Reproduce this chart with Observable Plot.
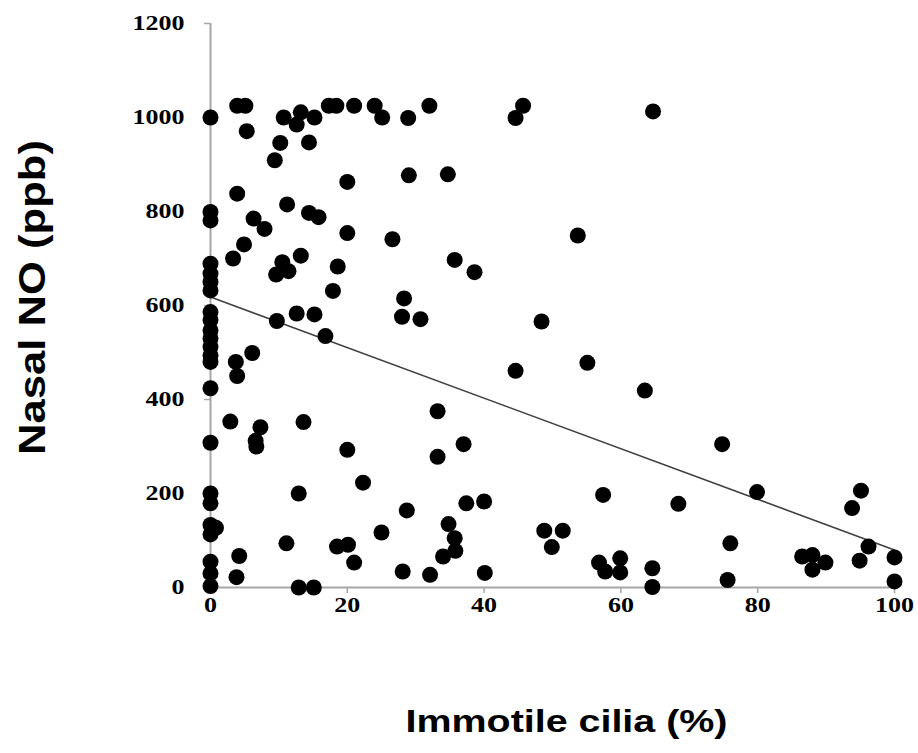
<!DOCTYPE html>
<html>
<head>
<meta charset="utf-8">
<script src="https://cdn.jsdelivr.net/npm/d3@7"></script>
<script src="https://cdn.jsdelivr.net/npm/@observablehq/plot@0.6"></script>
<style>
  html, body { margin: 0; padding: 0; background: white; }
</style>
</head>
<body>
<div id="chart"></div>
<script>
// Data
const immotile = [
  0, 3.9, 5.1, 5.3, 10.7, 13.2, 12.6, 15.2, 17.3, 18.4, 21.0, 24.0, 25.1, 28.9, 32.0, 44.6, 45.7, 64.7,
  10.2, 14.4, 9.4, 20.0, 3.9, 11.2, 0, 0, 14.4, 15.8, 6.3, 7.9, 20.0, 4.9, 3.3, 10.5, 13.2, 9.6, 11.4, 18.6, 17.9,
  0, 0, 0, 0, 0, 0, 0, 0, 0, 0, 0, 0,
  9.7, 12.6, 15.2, 16.8, 6.1, 3.7, 3.9, 2.9, 7.3, 6.6, 6.7, 13.6, 0, 20.0, 22.3, 0, 0, 12.9,
  0, 0.8, 0, 0, 0, 0, 4.2, 3.8, 11.1, 12.9, 15.1, 18.5, 20.1, 21.0,
  29.0, 34.7, 26.6, 35.7, 38.6, 28.3, 28.0, 30.7, 48.4, 44.6, 33.2, 37.0, 33.2, 28.7, 37.4, 40.0, 25.0,
  34.8, 35.7, 35.8, 34.0, 28.1, 32.1, 40.1,
  53.7, 55.1, 63.5, 57.4, 68.4, 48.8, 51.5, 49.9, 56.8, 57.7, 59.9, 59.9, 64.6, 64.6,
  74.8, 79.9, 76.0, 75.6, 86.5, 88.0, 89.9, 88.0, 95.1, 93.8, 96.2, 94.9, 100, 100
];
const nasalNO = [
  1000, 1025, 1025, 971, 1000, 1011, 985, 1000, 1025, 1025, 1025, 1025, 1000, 999, 1025, 999, 1025, 1013,
  946, 947, 909, 863, 838, 815, 799, 781, 797, 788, 785, 763, 754, 730, 700, 692, 706, 666, 673, 683, 631,
  689, 668, 650, 632, 586, 569, 547, 530, 512, 494, 480, 424,
  567, 583, 581, 535, 499, 480, 450, 353, 341, 312, 300, 352, 308, 293, 223, 200, 179, 200,
  133, 127, 113, 55, 30, 3, 67, 22, 94, 0, 0, 87, 91, 53,
  877, 879, 741, 697, 671, 615, 576, 571, 566, 461, 375, 305, 278, 164, 179, 183, 117,
  135, 105, 78, 66, 34, 27, 31,
  749, 478, 419, 197, 178, 121, 121, 86, 53, 34, 62, 32, 41, 1,
  305, 203, 94, 16, 66, 69, 53, 38, 206, 169, 87, 57, 64, 13
];
const trendX = [0, 100];
const trendY = [618, 80];
const xTicks = [0, 20, 40, 60, 80, 100];
const yTicks = [0, 200, 400, 600, 800, 1000, 1200];
const xTitle = ["Immotile cilia (%)"];
const yTitle = ["Nasal NO (ppb)"];

const points = immotile.map((x, i) => ({x, y: nasalNO[i]}));
const trend = trendX.map((x, i) => ({x, y: trendY[i]}));

const axisGray = "#a6a6a6";
const tickFont = {fontFamily: "Liberation Serif", fontSize: 20, fontWeight: "bold"};
const fmt = d => String(d);

const chart = Plot.plot({
  width: 918,
  height: 753,
  marginLeft: 210,
  marginRight: 24,
  marginTop: 23,
  marginBottom: 166,
  x: {domain: [0, 100]},
  y: {domain: [0, 1200]},
  style: {background: "white", overflow: "visible"},
  marks: [
    Plot.axisY({ticks: yTicks, tickSize: 6, stroke: axisGray, strokeWidth: 1.5, text: null, label: null}),
    Plot.axisX({ticks: xTicks, tickSize: 6, stroke: axisGray, strokeWidth: 1.5, text: null, label: null}),
    Plot.axisY({ticks: yTicks, tickFormat: fmt, tickSize: 0, tickPadding: 26, fill: "black", ...tickFont, label: null}),
    Plot.axisX({ticks: xTicks, tickFormat: fmt, tickSize: 0, tickPadding: 10, fill: "black", ...tickFont, label: null}),
    Plot.ruleX([0], {stroke: axisGray, strokeWidth: 2}),
    Plot.ruleY([0], {stroke: axisGray, strokeWidth: 2}),
    Plot.line(trend, {x: "x", y: "y", stroke: "#404040", strokeWidth: 1.6}),
    Plot.dot(points, {x: "x", y: "y", r: 8, fill: "black", stroke: null}),
    Plot.text(yTitle, {
      text: d => d, frameAnchor: "left", dx: -177, dy: -8, rotate: -90,
      textAnchor: "middle", lineAnchor: "middle",
      fontFamily: "Liberation Sans", fontWeight: "bold", fontSize: 37, fill: "black"
    }),
    Plot.text(xTitle, {
      text: d => d, frameAnchor: "bottom", dx: 14, dy: 135,
      textAnchor: "middle", lineAnchor: "middle",
      fontFamily: "Liberation Sans", fontWeight: "bold", fontSize: 31, fill: "black"
    })
  ]
});

const tickLabels = new Set([...xTicks, ...yTicks].map(fmt));
d3.select(chart).selectAll("text").each(function() {
  const t = this.textContent;
  if (t === yTitle[0]) {
    this.setAttribute("textLength", 315);
    this.setAttribute("lengthAdjust", "spacingAndGlyphs");
  } else if (t === xTitle[0]) {
    this.setAttribute("textLength", 322);
    this.setAttribute("lengthAdjust", "spacingAndGlyphs");
  } else if (tickLabels.has(t)) {
    this.setAttribute("textLength", t.length * 13);
    this.setAttribute("lengthAdjust", "spacingAndGlyphs");
  }
});

document.getElementById("chart").appendChild(chart);
</script>
</body>
</html>
